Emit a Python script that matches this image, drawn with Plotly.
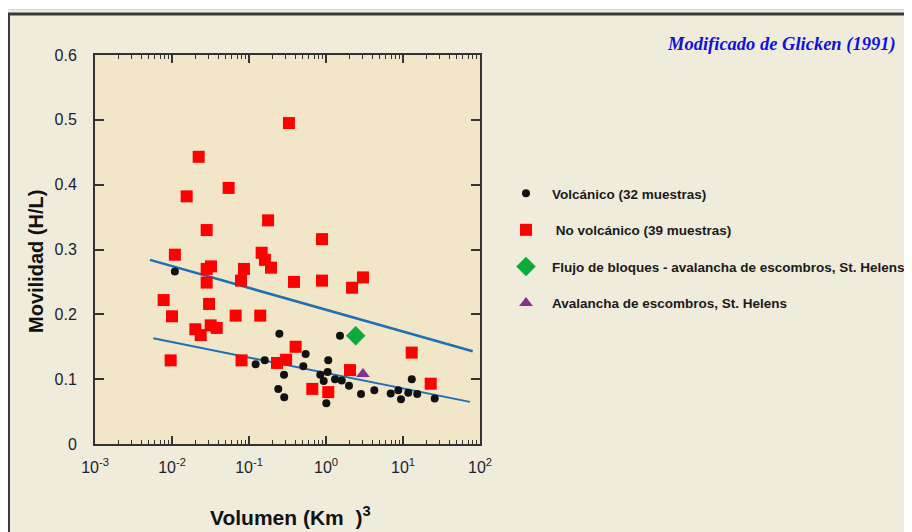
import plotly.graph_objects as go

# ---- data ----
volc_x = [0.0109, 0.248, 0.122, 0.160, 0.285, 0.240, 0.287, 1.52, 0.544, 0.507,
          1.07, 0.843, 1.05, 0.933, 1.31, 1.60, 1.99, 1.01, 2.85, 4.24,
          6.92, 8.69, 9.42, 11.7, 13.0, 15.3, 25.8]
volc_y = [0.266, 0.170, 0.123, 0.129, 0.107, 0.085, 0.072, 0.167, 0.139, 0.120,
          0.129, 0.107, 0.111, 0.097, 0.100, 0.098, 0.090, 0.063, 0.077, 0.083,
          0.078, 0.083, 0.069, 0.079, 0.100, 0.077, 0.070]

novolc_x = [0.33, 0.0222, 0.0544, 0.0155, 0.0282, 0.177, 0.887, 0.0109, 0.0282, 0.0321,
            0.0282, 0.0787, 0.086, 0.146, 0.161, 0.193, 0.0078, 0.0303, 0.010, 0.0671,
            0.140, 0.0201, 0.0236, 0.0318, 0.0381, 0.0096, 0.080, 0.231, 0.303, 0.384,
            0.887, 2.18, 3.02, 12.97, 0.403, 2.05, 0.664, 1.07, 22.9]
novolc_y = [0.495, 0.443, 0.395, 0.382, 0.330, 0.345, 0.316, 0.292, 0.270, 0.274,
            0.249, 0.252, 0.270, 0.295, 0.284, 0.272, 0.222, 0.216, 0.197, 0.198,
            0.198, 0.177, 0.168, 0.183, 0.179, 0.129, 0.129, 0.125, 0.130, 0.250,
            0.252, 0.241, 0.257, 0.141, 0.150, 0.114, 0.085, 0.080, 0.093]

flujo_x = [2.43]
flujo_y = [0.167]
aval_x = [3.02]
aval_y = [0.108]

upper_x = [0.00518, 80.4]
upper_y = [0.284, 0.143]
lower_x = [0.00571, 74.1]
lower_y = [0.163, 0.065]

x_tickvals = [0.001, 0.01, 0.1, 1, 10, 100]
x_ticktext = ["10<sup>-3</sup>", "10<sup>-2</sup>", "10<sup>-1</sup>",
              "10<sup>0</sup>", "10<sup>1</sup>", "10<sup>2</sup>"]
y_tickvals = [0, 0.1, 0.2, 0.3, 0.4, 0.5, 0.6]
y_ticktext = ["0", "0.1", "0.2", "0.3", "0.4", "0.5", "0.6"]

names = ["<b>Volcánico (32 muestras)</b>", "<b> No volcánico (39 muestras)</b>",
         "<b>Flujo de bloques - avalancha de escombros, St. Helens</b>",
         "<b>Avalancha de escombros, St. Helens</b>"]

BLUE = "#1f6fb5"
fig = go.Figure()
fig.add_trace(go.Scatter(x=upper_x, y=upper_y, mode="lines",
                         line=dict(color=BLUE, width=2.5), showlegend=False))
fig.add_trace(go.Scatter(x=lower_x, y=lower_y, mode="lines",
                         line=dict(color=BLUE, width=2), showlegend=False))
fig.add_trace(go.Scatter(x=volc_x, y=volc_y, mode="markers", name=names[0],
                         legendgroup="a",
                         marker=dict(symbol="circle", size=8, color="#111111")))
fig.add_trace(go.Scatter(x=novolc_x, y=novolc_y, mode="markers", name=names[1],
                         legendgroup="b",
                         marker=dict(symbol="square", size=12, color="#ff0000",
                                     line=dict(width=0))))
fig.add_trace(go.Scatter(x=flujo_x, y=flujo_y, mode="markers", name=names[2],
                         legendgroup="c",
                         marker=dict(symbol="diamond", size=15, color="#0aaa3c")))
fig.add_trace(go.Scatter(x=aval_x, y=aval_y, mode="markers", name=names[3],
                         legendgroup="d",
                         marker=dict(symbol="triangle-up", size=12, color="#8a2f96")))

# page body has an 8px margin; work in screen pixels and convert
OFF = 8
W, H = 904, 524
L, T = 95 - OFF, 55 - OFF
R = W - (480 - OFF)
B = H - (444 - OFF)
pw, ph = W - L - R, H - T - B


def px_x(p):
    return (p - OFF - L) / pw


def px_y(p):
    return (H - B - (p - OFF)) / ph


axis_col = "#333333"
tickfont = dict(family="Liberation Sans, Arial, sans-serif", size=16, color="#1e2030")

fig.update_xaxes(type="log", range=[-3, 2], tickvals=x_tickvals, ticktext=x_ticktext,
                 ticks="inside", ticklen=8, tickwidth=1.5, tickcolor=axis_col,
                 minor=dict(ticks="inside", ticklen=4, tickwidth=1, tickcolor=axis_col,
                            dtick="D1", showgrid=False),
                 showline=True, linecolor=axis_col, linewidth=2, mirror="ticks",
                 showgrid=False, zeroline=False, tickfont=tickfont,
                 ticklabelstandoff=8)
fig.update_yaxes(range=[0, 0.6], tickvals=y_tickvals, ticktext=y_ticktext,
                 ticks="inside", ticklen=9, tickwidth=1.5, tickcolor=axis_col,
                 showline=True, linecolor=axis_col, linewidth=2, mirror="ticks",
                 showgrid=False, zeroline=False, tickfont=tickfont,
                 ticklabelstandoff=13)

shapes = [
    dict(type="rect", xref="paper", yref="paper", x0=px_x(-20), x1=px_x(940),
         y0=px_y(10), y1=px_y(-20), fillcolor="white", line=dict(width=0), layer="above"),
    dict(type="line", xref="paper", yref="paper", x0=px_x(0), x1=px_x(940),
         y0=px_y(9.5), y1=px_y(9.5), line=dict(color="#d8d8d8", width=1), layer="above"),
    dict(type="line", xref="paper", yref="paper", x0=px_x(7), x1=px_x(940),
         y0=px_y(14), y1=px_y(14), line=dict(color="#3a3a3a", width=3), layer="above"),
    dict(type="line", xref="paper", yref="paper", x0=px_x(8.5), x1=px_x(8.5),
         y0=px_y(14), y1=px_y(560), line=dict(color="#3a3a3a", width=3), layer="above"),
]

annotations = [
    dict(text="<b><i>Modificado de Glicken (1991)</i></b>", xref="paper", yref="paper",
         x=px_x(898), y=px_y(45), xanchor="right", yanchor="middle", showarrow=False,
         font=dict(family="Liberation Serif, Times New Roman, serif", size=18.5, color="#1010e0")),
    dict(text="<b>Volumen (Km  )<sup>3</sup></b>", xref="paper", yref="paper",
         x=px_x(290), y=px_y(516), xanchor="center", yanchor="middle", showarrow=False,
         font=dict(family="Liberation Sans, Arial, sans-serif", size=21, color="#111111")),
    dict(text="<b>Movilidad (H/L)</b>", xref="paper", yref="paper", textangle=-90,
         x=px_x(36), y=px_y(262), xanchor="center", yanchor="middle", showarrow=False,
         font=dict(family="Liberation Sans, Arial, sans-serif", size=20, color="#111111")),
]

fig.update_layout(
    width=W, height=H,
    margin=dict(l=L, r=R, t=T, b=B, autoexpand=False),
    paper_bgcolor="#f0ecdc",
    plot_bgcolor="#f1e6c8",
    shapes=shapes,
    annotations=annotations,
    legend=dict(x=px_x(500), y=px_y(178), xanchor="left", yanchor="top",
                bgcolor="rgba(0,0,0,0)", traceorder="grouped", tracegroupgap=16,
                font=dict(family="Liberation Sans, Arial, sans-serif", size=13.5,
                          color="#1a1a1a"),
                itemsizing="trace", itemwidth=42),
)

fig.write_html("out.html")
